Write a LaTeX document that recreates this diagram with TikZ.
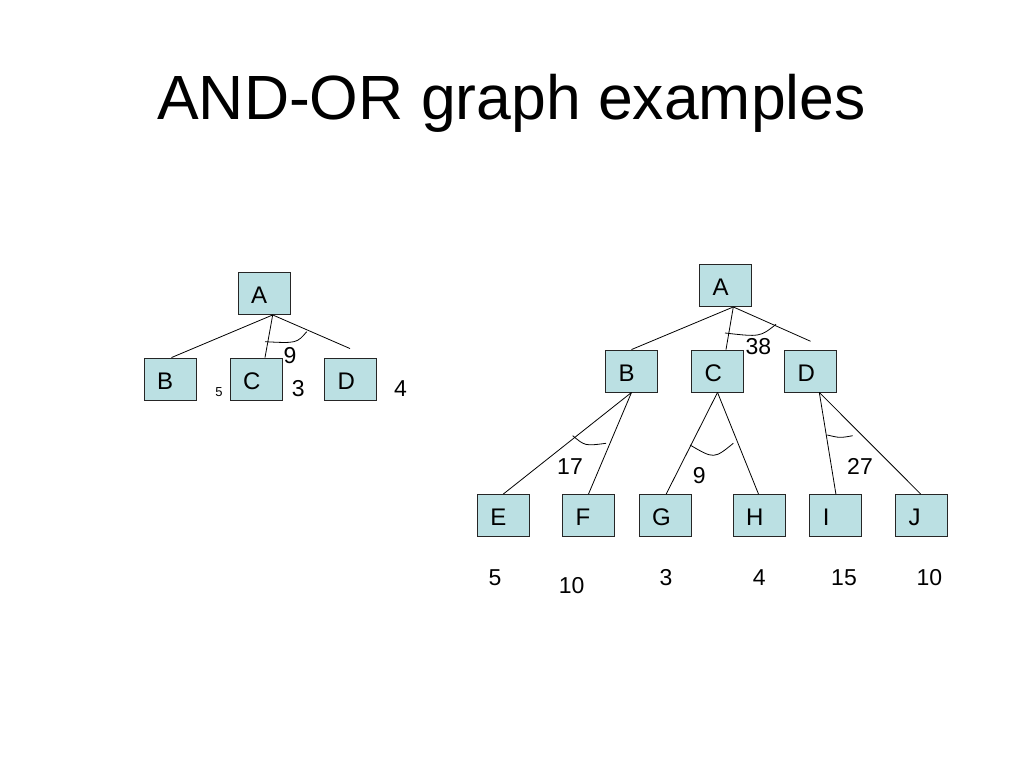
\documentclass[tikz,border=0pt]{standalone}
\usepackage{fontspec}
\setmainfont{Liberation Sans}
\definecolor{boxfill}{RGB}{187,224,227}
\tikzset{
  box/.style={draw=black!85, line width=0.9pt, fill=boxfill, minimum height=42pt,
    text width=26pt, inner xsep=13pt, inner ysep=0pt, align=left,
    text height=20pt, text depth=0pt,
    font=\fontsize{24}{28}\selectfont},
  edge/.style={line width=0.8pt, draw=black},
  val/.style={anchor=base, inner sep=0pt, font=\fontsize{23}{27}\selectfont},
  smallval/.style={anchor=base, inner sep=0pt, font=\fontsize{13}{15}\selectfont},
}
\begin{document}
\begin{tikzpicture}[x=1pt,y=-1pt]
\useasboundingbox[fill=white] (0,0) rectangle (1024,768);
% title
\node[anchor=base, inner sep=0pt, font=\fontsize{62.5}{70}\selectfont] (title) at (511.5,119) {AND-OR graph examples};

% ---------- left graph ----------
\node[box] (LA) at (264,293.5) {A};
\node[box] (LB) at (170,379) {B};
\node[box] (LC) at (256,379) {C};
\node[box] (LD) at (350.5,379) {D};
\coordinate (LAo) at ([xshift=8.7pt]LA.south);
\coordinate (LDe) at ([xshift=-0.5pt,yshift=9pt]LD.north);
\draw[edge] (LAo) -- ([xshift=1.5pt]LB.north);
\draw[edge] (LAo) -- ([xshift=9pt]LC.north);
\draw[edge] (LAo) -- (LDe);
\draw[edge] (265,341.7) .. controls (296.7,343.3) .. (306.7,331.7);
\node[val] (l9) at (290,363) {9};
\node[smallval] (l5) at (219,396.5) {5};
\node[val] (l3) at (298.3,396.7) {3};
\node[val] (l4) at (400.5,396.7) {4};

% ---------- right graph ----------
\node[box] (RA) at (725.5,285.5) {A};
\node[box] (RB) at (631.5,371) {B};
\node[box] (RC) at (717.5,371) {C};
\node[box] (RD) at (810.5,371) {D};
\coordinate (RAo) at ([xshift=7.8pt]RA.south);
\coordinate (RDe) at ([yshift=8.3pt]RD.north);
\draw[edge] (RAo) -- (RB.north);
\draw[edge] (RAo) -- ([xshift=8.5pt]RC.north);
\draw[edge] (RAo) -- (RDe);
\draw[edge] (725,333) .. controls (760,337) .. (776,324.3);
\node[val] (r38) at (758.3,354) {38};

\node[box] (RE) at (503.3,515.5) {E};
\node[box] (RF) at (588.5,515.5) {F};
\node[box] (RG) at (665.2,515.5) {G};
\node[box] (RH) at (759.2,515.5) {H};
\node[box] (RI) at (835.9,515.5) {I};
\node[box] (RJ) at (921.7,515.5) {J};

\draw[edge] (RB.south) -- (RE.north);
\draw[edge] (RB.south) -- (RF.north);
\draw[edge] (572.7,435.7) .. controls (585,446) .. (606,443.3);
\node[val] (r17) at (570,474) {17};

\draw[edge] (RC.south) -- ([xshift=1pt]RG.north);
\draw[edge] (RC.south) -- ([xshift=-0.7pt]RH.north);
\draw[edge] (690,445) .. controls (714,459) .. (733.3,443.3);
\node[val] (r9) at (699.3,483) {9};

\coordinate (RDo) at ([xshift=8.8pt]RD.south);
\draw[edge] (RDo) -- (RI.north);
\draw[edge] (RDo) -- ([xshift=-1pt]RJ.north);
\draw[edge] (827.3,435) .. controls (840,438) .. (852.7,435.7);
\node[val] (r27) at (860,474) {27};

\node[val] (vE) at (495,585) {5};
\node[val] (vF) at (571.7,593) {10};
\node[val] (vG) at (666,585) {3};
\node[val] (vH) at (759.3,585) {4};
\node[val] (vI) at (844,585) {15};
\node[val] (vJ) at (929.3,585) {10};
\end{tikzpicture}
\end{document}
